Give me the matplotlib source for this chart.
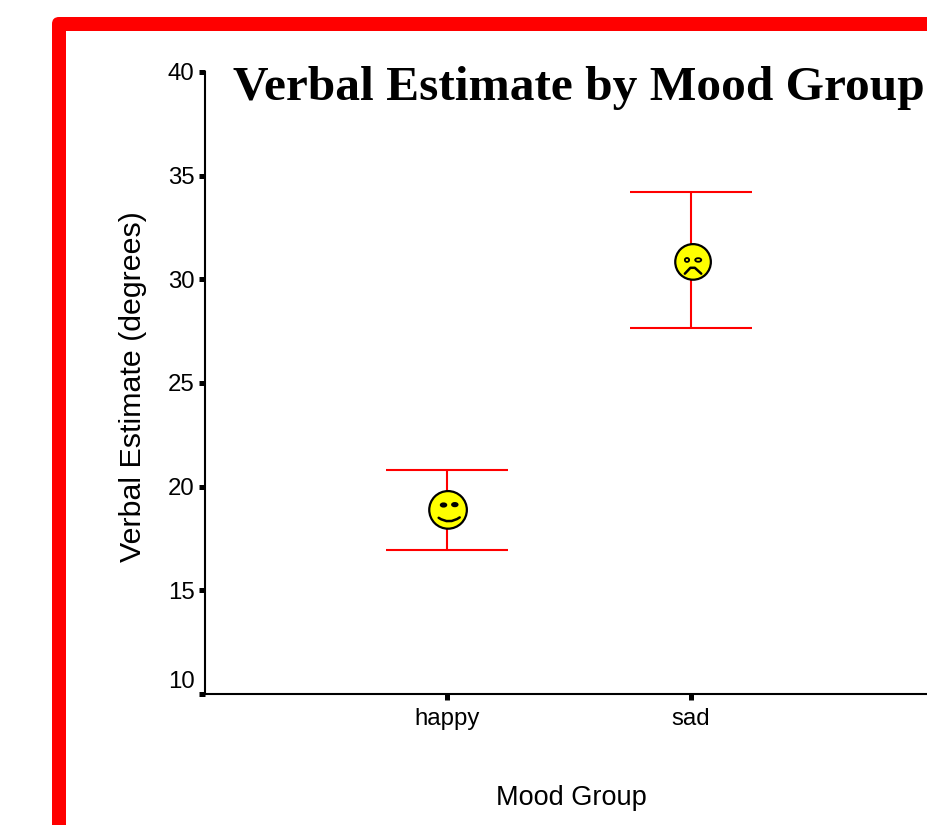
import matplotlib
matplotlib.use("Agg")
import matplotlib.pyplot as plt
from matplotlib.patches import FancyBboxPatch, Rectangle, Circle, Ellipse, PathPatch
from matplotlib.path import Path
from matplotlib.transforms import Affine2D, ScaledTranslation, offset_copy

groups = ["happy", "sad"]
means = [18.88, 30.84]
upper = [20.80, 34.22]
lower = [16.95, 27.65]
y_ticks = [10, 15, 20, 25, 30, 35, 40]

W, H = 927, 825
plt.rcParams["font.family"] = ["Liberation Sans", "DejaVu Sans"]

fig = plt.figure(figsize=(W / 100, H / 100), dpi=100)

# red frame runs off the right and bottom edges, kept behind the axes
px = Affine2D().scale(1, -1).translate(0, H)
fig.add_artist(FancyBboxPatch((52, 17), 1000, 1000, boxstyle="round,pad=0,rounding_size=7",
                              transform=px, fc="#ff0000", ec="none", zorder=-2))
fig.add_artist(Rectangle((66, 31), 1000, 1000, transform=px, fc="white", ec="none", zorder=-1))

ax = fig.add_axes([205 / W, (H - 694) / H, (W - 205) / W, (694 - 72) / H])
ax.set_facecolor("none")
ax.set_xlim(0.008, 2.967)
ax.set_ylim(10, 40)
xs = [1, 2]

for s in ["top", "right"]:
    ax.spines[s].set_visible(False)
for s in ["left", "bottom"]:
    ax.spines[s].set_linewidth(1.5)

ax.set_xticks(xs)
ax.set_xticklabels(groups)
ax.set_yticks(y_ticks)
ax.tick_params(axis="both", length=4, width=3.6, labelsize=17.3, color="black")
ax.tick_params(axis="x", pad=6)
ax.tick_params(axis="y", pad=3.5)
# bottom label sits above its tick in the original
lab10 = ax.get_yticklabels()[0]
lab10.set_transform(offset_copy(lab10.get_transform(), fig=fig, y=14, units="dots"))

ax.vlines(xs, lower, upper, color="#ff0000", lw=1.5, zorder=2)
ax.hlines(upper + lower, [x - 0.25 for x in xs] * 2, [x + 0.25 for x in xs] * 2,
          color="#ff0000", lw=1.5, zorder=2)


def add_face(x, y, r, dx, eyes, eye_fill, mouth, mouth_code):
    tr = Affine2D().scale(r).translate(dx, 0) + ScaledTranslation(x, y, ax.transData)
    ax.add_patch(Circle((0, 0), 1, transform=tr, fc="#ffff00", ec="black", lw=1.6, zorder=3))
    for ex, ey, ew, eh in eyes:
        ax.add_patch(Ellipse((ex, ey), ew, eh, transform=tr, fc=eye_fill, ec="black",
                             lw=1.3, zorder=4))
    codes = [Path.MOVETO] + [mouth_code] * (len(mouth) - 1)
    ax.add_patch(PathPatch(Path(mouth, codes), transform=tr, fc="none", ec="black",
                           lw=1.8, capstyle="round", joinstyle="round", zorder=4))


add_face(xs[0], means[0], 18.8, 1,
         [(-0.24, 0.26, 0.3, 0.18), (0.36, 0.28, 0.3, 0.18)], "black",
         [(-0.5, -0.42), (0.05, -0.8), (0.62, -0.4)], Path.CURVE3)
add_face(xs[1], means[1], 17.8, 2,
         [(-0.34, 0.11, 0.24, 0.22), (0.29, 0.11, 0.34, 0.2)], "none",
         [(-0.46, -0.66), (-0.15, -0.33), (0.1, -0.33), (0.46, -0.66)], Path.LINETO)

fig.text(571.5 / W, 1 - 798 / H, "Mood Group", ha="center", va="center", fontsize=19.5)
fig.text(133 / W, 1 - 387 / H, "Verbal Estimate (degrees)", ha="center", va="center",
         rotation=90, fontsize=21.9)
fig.text(233 / W, 1 - 99.5 / H, "Verbal Estimate by Mood Group", ha="left", va="baseline",
         family=["Liberation Serif", "DejaVu Serif"], weight="bold", fontsize=35.6)

fig.savefig("out.png", dpi=100)
